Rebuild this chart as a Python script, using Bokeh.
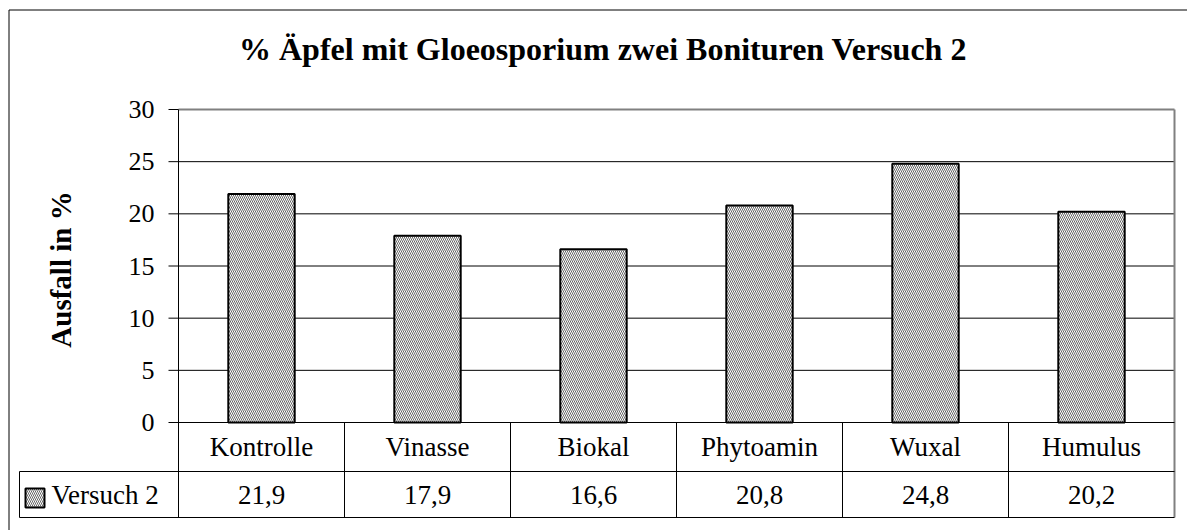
import math
from bokeh.plotting import figure
from bokeh.models import Range1d, ColumnDataSource
from bokeh.core.properties import value
from bokeh.embed import file_html
from bokeh.resources import INLINE

# ---------------- data ----------------
categories = ["Kontrolle", "Vinasse", "Biokal", "Phytoamin", "Wuxal", "Humulus"]
series_name = "Versuch 2"
values = [21.9, 17.9, 16.6, 20.8, 24.8, 20.2]
y_ticks = [0, 5, 10, 15, 20, 25, 30]
title_text = "% Äpfel mit Gloeosporium zwei Bonituren Versuch 2"
y_label = "Ausfall in %"

# ---------------- layout (pixels on the canvas) ----------------
FONT = value("Liberation Serif")
W, H = 1187, 530
FRAME_L, FRAME_R, FRAME_T = 178, 1174, 109
ZERO_PX, TABLE_MID_PX, TABLE_BOT_PX = 422, 471, 517
LEG_L_PX = 19
TICK_OUT = 10
HATCH = dict(hatch_pattern="\\", hatch_color="#555555", hatch_scale=4, hatch_weight=0.9)

ymax = y_ticks[-1]
ppu = (ZERO_PX - FRAME_T) / ymax
ncat = len(categories)
ppc = (FRAME_R - FRAME_L) / ncat


def dx(px):
    return (px - FRAME_L) / ppc


def dy(py):
    return (ZERO_PX - py) / ppu


row_mid = dy(TABLE_MID_PX)
y_bot = dy(TABLE_BOT_PX)

p = figure(width=W, height=H, x_range=Range1d(dx(0), dx(W)), y_range=Range1d(dy(H), dy(0)),
           output_backend="svg", toolbar_location=None, min_border=0,
           x_axis_location=None, y_axis_location=None)
p.background_fill_color = "white"
p.border_fill_color = "white"
p.outline_line_color = None
p.grid.visible = False

# outer chart border (left and top edges)
p.segment(x0=[dx(8.5), dx(8.5)], y0=[dy(9.5), dy(9.5)], x1=[dx(8.5), dx(W + 5)],
          y1=[dy(H + 5), dy(9.5)], line_color="black", line_width=1)

# title
p.text(x=[dx(602.5)], y=[dy(48)], text=[title_text], text_align="center",
       text_baseline="middle", text_font=FONT, text_font_style="bold",
       text_font_size="32px", text_color="black")

# gridlines
grid_vals = y_ticks[1:-1]
p.segment(x0=[0] * len(grid_vals), y0=grid_vals, x1=[ncat] * len(grid_vals), y1=grid_vals,
          line_color="black", line_width=1)

# bars
xs = [i + 0.5 for i in range(ncat)]
src = ColumnDataSource(dict(x=xs, top=values, cat=categories,
                            lab=[f"{v:.1f}".replace(".", ",") for v in values]))
p.vbar(x="x", top="top", bottom=0, width=0.4, source=src,
       fill_color="white", line_color="black", line_width=2, **HATCH)

# plot-area outline (top, right) in grey
p.segment(x0=[0, ncat], y0=[ymax, ymax], x1=[ncat, ncat], y1=[ymax, y_bot],
          line_color="#808080", line_width=2)

# y axis: line, ticks, labels, title
p.segment(x0=[0], y0=[ymax], x1=[0], y1=[y_bot], line_color="black", line_width=1)
p.segment(x0=[dx(FRAME_L - TICK_OUT)] * len(y_ticks), y0=y_ticks,
          x1=[0] * len(y_ticks), y1=y_ticks, line_color="black", line_width=1)
p.text(x=[dx(154)] * len(y_ticks), y=y_ticks, text=[str(t) for t in y_ticks],
       text_align="right", text_baseline="middle", text_font=FONT,
       text_font_size="26px", text_color="black")
p.text(x=[dx(60)], y=[dy(269)], text=[y_label], angle=math.pi / 2, text_align="center",
       text_baseline="middle", text_font=FONT, text_font_style="bold",
       text_font_size="29px", text_color="black")

# data table lines
p.segment(x0=[0, dx(LEG_L_PX), dx(LEG_L_PX)], y0=[0, row_mid, y_bot],
          x1=[ncat, ncat, ncat], y1=[0, row_mid, y_bot],
          line_color="black", line_width=1)
p.segment(x0=list(range(1, ncat)) + [dx(LEG_L_PX)], y0=[y_bot] * (ncat - 1) + [y_bot],
          x1=list(range(1, ncat)) + [dx(LEG_L_PX)], y1=[0] * (ncat - 1) + [row_mid],
          line_color="black", line_width=1)

# table texts
p.text(x="x", y=row_mid / 2, text="cat", source=src, text_align="center",
       text_baseline="middle", text_font=FONT, text_font_size="27px",
       text_color="black")
p.text(x="x", y=(row_mid + y_bot) / 2, text="lab", source=src, text_align="center",
       text_baseline="middle", text_font=FONT, text_font_size="27px",
       text_color="black")

# legend key in the table
p.quad(left=[dx(25)], right=[dx(44)], top=[dy(488)], bottom=[dy(507)],
       fill_color="white", line_color="black", line_width=2, **HATCH)
p.text(x=[dx(51)], y=[(row_mid + y_bot) / 2], text=[series_name], text_align="left",
       text_baseline="middle", text_font=FONT, text_font_size="27px", text_color="black")

open("out.html", "w").write(file_html(p, INLINE))
